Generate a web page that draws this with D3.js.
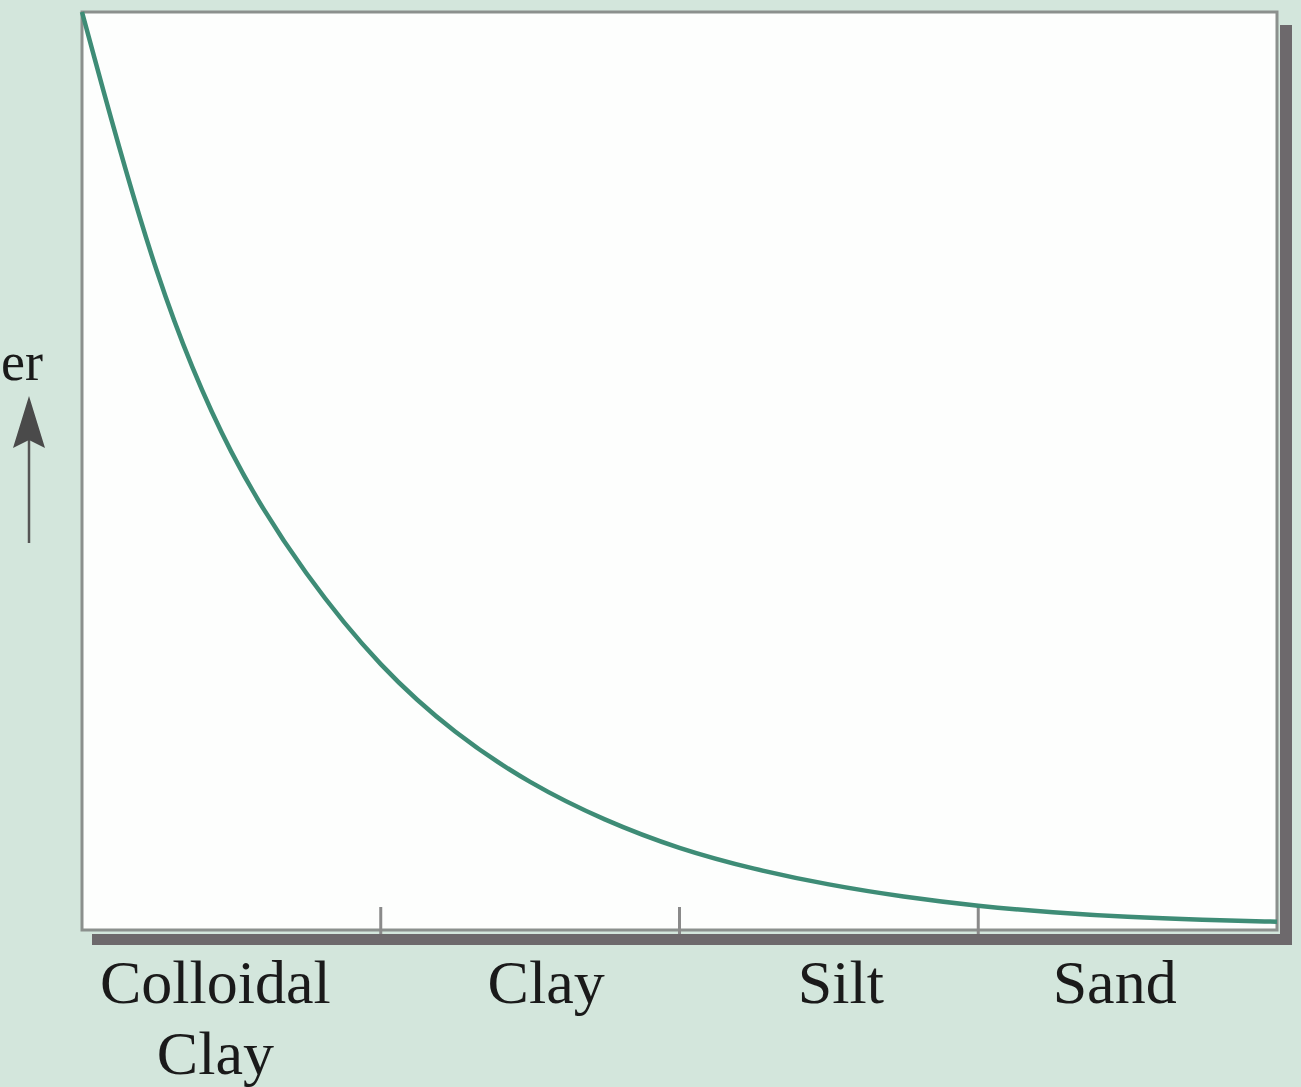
<!DOCTYPE html>
<html>
<head>
<meta charset="utf-8">
<script src="https://cdn.jsdelivr.net/npm/d3@7"></script>
<style>
  html, body { margin: 0; padding: 0; background: #d3e6dc; }
  svg { display: block; }
</style>
</head>
<body>
<svg id="chart" width="1301" height="1087"></svg>
<script>
// ---- data ----
const categories = ["Colloidal\nClay", "Clay", "Silt", "Sand"];
const tickValues = [1, 2, 3];
const curveX = [0, 0.25, 0.5, 0.75, 1.0, 1.25, 1.5, 1.75, 2.0, 2.25, 2.5, 2.75, 3.0, 3.25, 3.5, 3.75, 4.0];
const curveY = [100, 70, 51, 38.5, 28.5, 21.3, 15.9, 11.9, 8.8, 6.6, 4.9, 3.6, 2.6, 1.9, 1.4, 1.1, 0.9];
const yLabel = "er";

// ---- layout ----
const svg = d3.select("#chart");
const L = 82, R = 1277, T = 12, B = 930;
const x = d3.scaleLinear().domain([0, categories.length]).range([L, R]);
const y = d3.scaleLinear().domain([0, 100]).range([B, T]);
const labelNudge = [-16, 16, 12, -13];

// shadow bars (right and bottom)
svg.append("rect").attr("x", 92).attr("y", 934).attr("width", 1292 - 92).attr("height", 11).attr("fill", "#6d696c");
svg.append("rect").attr("x", 1280).attr("y", 25).attr("width", 12).attr("height", 945 - 25).attr("fill", "#6d696c");

// plot box
svg.append("rect").attr("x", L).attr("y", T).attr("width", R - L).attr("height", B - T)
  .attr("fill", "#fdfefd").attr("stroke", "#8b908d").attr("stroke-width", 3);

// ticks
svg.append("g").selectAll("line").data(tickValues).join("line")
  .attr("x1", d => x(d)).attr("x2", d => x(d))
  .attr("y1", 907).attr("y2", 934)
  .attr("stroke", "#8a8a8a").attr("stroke-width", 3);

// curve
const pts = curveX.map((v, i) => [v, curveY[i]]);
const line = d3.line().x(d => x(d[0])).y(d => y(d[1])).curve(d3.curveBasis);
svg.append("path").datum(pts).attr("d", line)
  .attr("fill", "none").attr("stroke", "#3e8c76").attr("stroke-width", 4.5);

// category labels
const lab = svg.append("g").attr("font-family", "'Liberation Serif', 'Times New Roman', serif")
  .attr("font-size", 62).attr("fill", "#1a1a1a").attr("text-anchor", "middle");
categories.forEach((c, i) => {
  const cx = x(i + 0.5) + labelNudge[i];
  const t = lab.append("text").attr("x", cx).attr("y", 1003);
  c.split("\n").forEach((s, j) => {
    t.append("tspan").attr("x", cx).attr("dy", j === 0 ? 0 : 71).text(s);
  });
});

// y axis label fragment + arrow
svg.append("text").attr("x", 1).attr("y", 380).attr("text-anchor", "start")
  .attr("font-family", "'Liberation Serif', 'Times New Roman', serif")
  .attr("font-size", 54).attr("fill", "#1a1a1a").text(yLabel);
svg.append("line").attr("x1", 29).attr("x2", 29).attr("y1", 440).attr("y2", 543)
  .attr("stroke", "#555").attr("stroke-width", 2.5);
svg.append("path").attr("d", "M29,396 L45,448 L29,440 L13,448 Z").attr("fill", "#4a4a4a");
</script>
</body>
</html>
